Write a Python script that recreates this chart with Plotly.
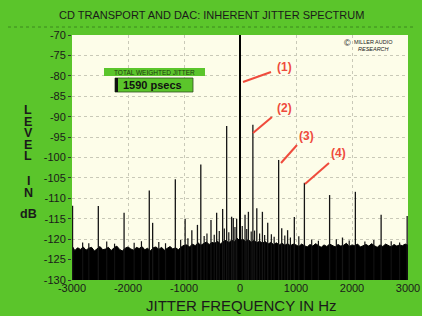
import numpy as np
import plotly.graph_objects as go

# ---------------- data ----------------
noise_floor = [
    -121.6,-122.8,-122.1,-122.5,-121.9,-122.7,-122.2,-122.0,-122.9,-122.3,
    -121.8,-122.6,-122.4,-122.0,-122.8,-122.1,-121.7,-122.5,-122.9,-122.2,
    -121.9,-122.4,-122.7,-122.0,-122.3,-121.8,-122.6,-122.2,-122.9,-122.1,
    -121.9,-122.5,-122.0,-122.7,-122.3,-121.8,-122.4,-122.1,-122.6,-121.9,
    -121.5,
    -121.4,-121.9,-121.2,-121.6,-120.9,-121.5,-121.1,-120.7,-121.3,-120.8,
    -121.0,-120.5,-121.2,-120.6,-120.3,-120.9,-120.2,-120.7,-119.8,-120.4,
    -120.0,-120.6,-120.1,-120.8,-120.3,-120.9,-120.5,-121.0,-120.6,-121.2,
    -120.8,-121.3,-120.9,-121.4,-121.0,-121.5,-121.1,-121.6,-121.2,
    -121.4,-121.8,-121.2,-121.6,-121.9,-121.3,-121.7,-121.1,-121.5,-122.0,
    -121.4,-121.8,-121.2,-121.6,-121.9,-121.3,-121.7,-121.5,-121.0,-121.8,
    -121.4,-121.6,-121.2,-121.9,-121.5,-121.3,-121.7,-121.1,-121.6,-122.0,
    -121.4,-121.8,-121.2,-121.5,-121.9,-121.3,-121.7,-121.4,-121.6,-121.2,
    -121.5,
]
noise_freq = np.linspace(-3000, 3000, len(noise_floor))

# fine "grass" on top of the floor (approximate)
grass_freq = [-2810, -2700, -2380, -2240, -1890, -1760, -1450, -1330, -1060, -930,
              -640, -590, -460, -370, -280, -200, -90, 40, 120, 200, 260, 350,
              440, 560, 610, 800, 900, 1050, 1280, 1400, 1720, 1950, 2230, 2390, 2700, 2850]
grass_level = [-120.8, -121.0, -120.6, -121.1, -120.9, -120.5, -120.7, -121.0, -120.2, -119.8,
               -119.2, -118.6, -118.9, -118.0, -117.4, -118.3, -117.0, -116.8, -117.5, -118.1, -117.9, -118.6,
               -119.0, -118.8, -119.4, -119.1, -119.6, -119.3, -120.1, -120.4, -120.0, -120.3, -120.6, -120.2, -120.5, -120.8]

spike_freq = [-2990, -2530, -2070, -1620, -1560, -1155, -980, -860, -760, -700,
              -518, -417, -310, -238, -150, -120, -60, 0, 90, 150, 230, 300, 400,
              495, 690, 745, 850, 970, 1150, 1600, 1830, 2060, 2520, 2985]
spike_level = [-111.8, -111.9, -113.5, -108.1, -116.0, -105.3, -115.0, -117.8, -116.5, -101.7,
               -115.3, -113.5, -112.6, -92.3, -114.5, -114.8, -115.0, -68.0, -114.0, -113.3, -92.0, -112.4, -113.3,
               -116.0, -100.6, -117.3, -117.8, -114.6, -106.2, -109.2, -119.6, -108.4, -114.0, -114.3]

y_ticks = list(range(-130, -65, 5))
x_ticks = [-3000, -2000, -1000, 0, 1000, 2000, 3000]
floor_level = -130

title_text = "CD TRANSPORT AND DAC: INHERENT JITTER SPECTRUM"
x_title = "JITTER FREQUENCY IN Hz"
y_title_letters = ["L", "E", "V", "E", "L", "I", "N", "dB"]
jitter_label = "TOTAL WEIGHTED JITTER"
jitter_value = "1590 psecs"
marker_labels = ["(1)", "(2)", "(3)", "(4)"]

# ---------------- styling/layout ----------------
W, H = 422, 316
L, R, T, B = 72, 14, 35, 36
GREEN = "#5bc52b"
CREAM = "#fdfde9"
RED = "#ef4b3c"
FONT = "Liberation Sans, Arial, sans-serif"


def px(x, y):
    return (x - L) / (W - L - R), (H - B - y) / (H - T - B)


fig = go.Figure()

# noise floor as filled area
fig.add_trace(go.Scatter(x=[-3000, 3000], y=[floor_level, floor_level], mode="lines",
                         line=dict(color="black", width=0), hoverinfo="skip", showlegend=False))
fig.add_trace(go.Scatter(x=noise_freq, y=noise_floor, mode="lines", fill="tonexty",
                         fillcolor="black", line=dict(color="black", width=1),
                         showlegend=False))

# grass + spikes
sx, sy = [], []
for f, v in zip(grass_freq, grass_level):
    sx += [f, f, None]
    sy += [floor_level, v, None]
fig.add_trace(go.Scatter(x=sx, y=sy, mode="lines", line=dict(color="#111111", width=1.2),
                         showlegend=False))
sx, sy = [], []
for f, v in zip(spike_freq, spike_level):
    if f == 0:
        continue
    sx += [f, f, None]
    sy += [floor_level, v, None]
fig.add_trace(go.Scatter(x=sx, y=sy, mode="lines", line=dict(color="#151515", width=1.3),
                         showlegend=False))
cx = [f for f in spike_freq if f == 0]
cy = [v for f, v in zip(spike_freq, spike_level) if f == 0]
fig.add_trace(go.Scatter(x=[cx[0], cx[0]], y=[floor_level, cy[0]], mode="lines",
                         line=dict(color="black", width=2), showlegend=False))

annotations = []
shapes = []

# title underline (dotted)
x0, y0 = px(8, 27)
x1, _ = px(414, 27)
shapes.append(dict(type="line", xref="paper", yref="paper", x0=x0, x1=x1, y0=y0, y1=y0,
                   line=dict(color="#3d8a1e", width=1, dash="dot")))

# title
ax, ay = px(211, 15)
annotations.append(dict(text=title_text, x=ax, y=ay, xref="paper", yref="paper", showarrow=False,
                        font=dict(family=FONT, size=11, color="#1a1a1a"), xanchor="center", yanchor="middle"))

# Y title letters
ypos = [110, 121.5, 133, 144.5, 156, 181, 193, 214]
for letter, yy in zip(y_title_letters, ypos):
    ax, ay = px(28, yy)
    annotations.append(dict(text="<b>" + letter + "</b>", x=ax, y=ay, xref="paper", yref="paper",
                            showarrow=False, font=dict(family=FONT, size=12.5, color="#1a1a1a"),
                            xanchor="center", yanchor="middle"))

# X title
ax, ay = px(241, 305)
annotations.append(dict(text=x_title, x=ax, y=ay, xref="paper", yref="paper", showarrow=False,
                        font=dict(family=FONT, size=15, color="#1a1a1a"), xanchor="center", yanchor="middle"))

# jitter boxes
bx0, by0 = px(104, 76)
bx1, by1 = px(205, 68)
shapes.append(dict(type="rect", xref="paper", yref="paper", x0=bx0, x1=bx1, y0=by0, y1=by1,
                   fillcolor=GREEN, line=dict(width=0)))
ax, ay = px(154.5, 72.5)
annotations.append(dict(text=jitter_label, x=ax, y=ay, xref="paper", yref="paper", showarrow=False,
                        font=dict(family=FONT, size=6.5, color="#1f3a10"), xanchor="center", yanchor="middle"))
bx0, by0 = px(115, 92)
bx1, by1 = px(193, 78)
shapes.append(dict(type="rect", xref="paper", yref="paper", x0=bx0, x1=bx1, y0=by0, y1=by1,
                   fillcolor=GREEN, line=dict(color="#2f4f20", width=0.8)))
bx2, _ = px(118, 92)
shapes.append(dict(type="rect", xref="paper", yref="paper", x0=bx0, x1=bx2, y0=by0, y1=by1,
                   fillcolor="#111111", line=dict(width=0)))
ax, ay = px(121, 85)
annotations.append(dict(text="<b>" + jitter_value + "</b>", x=ax, y=ay, xref="paper", yref="paper",
                        showarrow=False, font=dict(family=FONT, size=11, color="#111111"),
                        xanchor="left", yanchor="middle"))

# logo
ax, ay = px(347, 42.5)
annotations.append(dict(text="©", x=ax, y=ay, xref="paper", yref="paper", showarrow=False,
                        font=dict(family=FONT, size=9, color="#222222"), xanchor="center", yanchor="middle"))
ax, ay = px(352, 42)
annotations.append(dict(text="MILLER AUDIO", x=ax, y=ay, xref="paper", yref="paper", showarrow=False,
                        font=dict(family=FONT, size=5.5, color="#222222"), xanchor="left", yanchor="middle"))
ax, ay = px(391, 48.5)
annotations.append(dict(text="<i>RESEARCH</i>", x=ax, y=ay, xref="paper", yref="paper", showarrow=False,
                        font=dict(family=FONT, size=5.5, color="#222222"), xanchor="right", yanchor="middle"))

# red marker labels and leader lines (pixel positions)
leaders = [((243, 82), (271, 72), (284, 67)),
           ((253, 133), (272, 117), (284, 108)),
           ((281, 163), (297, 145), (306, 136)),
           ((305, 184), (329, 163), (338, 153))]
for lab, (p0, p1, pl) in zip(marker_labels, leaders):
    a0 = px(*p0)
    a1 = px(*p1)
    shapes.append(dict(type="line", xref="paper", yref="paper", x0=a0[0], y0=a0[1], x1=a1[0], y1=a1[1],
                       line=dict(color=RED, width=2)))
    al = px(*pl)
    annotations.append(dict(text="<b>" + lab + "</b>", x=al[0], y=al[1], xref="paper", yref="paper",
                            showarrow=False, font=dict(family=FONT, size=12, color=RED),
                            xanchor="center", yanchor="middle"))

fig.update_layout(
    width=W, height=H,
    margin=dict(l=L, r=R, t=T, b=B, autoexpand=False),
    paper_bgcolor=GREEN,
    plot_bgcolor=CREAM,
    xaxis=dict(range=[-3000, 3000], tickvals=x_ticks, ticktext=[str(v) for v in x_ticks],
               showgrid=True, gridcolor="#c9c9b8", griddash="dot", gridwidth=1,
               zeroline=False, showline=False, ticks="", ticklen=0, automargin=False,
               tickfont=dict(family=FONT, size=11, color="#1a1a1a")),
    yaxis=dict(range=[-130, -70], tickvals=y_ticks, ticktext=[str(v) for v in y_ticks],
               showgrid=True, gridcolor="#c9c9b8", griddash="dot", gridwidth=1,
               zeroline=False, showline=False, ticks="outside", ticklen=3, tickcolor="#333333",
               automargin=False,
               tickfont=dict(family=FONT, size=11, color="#1a1a1a")),
    shapes=shapes,
    annotations=annotations,
)

fig.write_html(
    "out.html",
    config={"displayModeBar": False},
    post_script="document.body.style.margin='0px';document.body.style.padding='0px';"
                "document.body.style.background='" + GREEN + "';"
                "document.body.style.overflow='hidden';",
)
